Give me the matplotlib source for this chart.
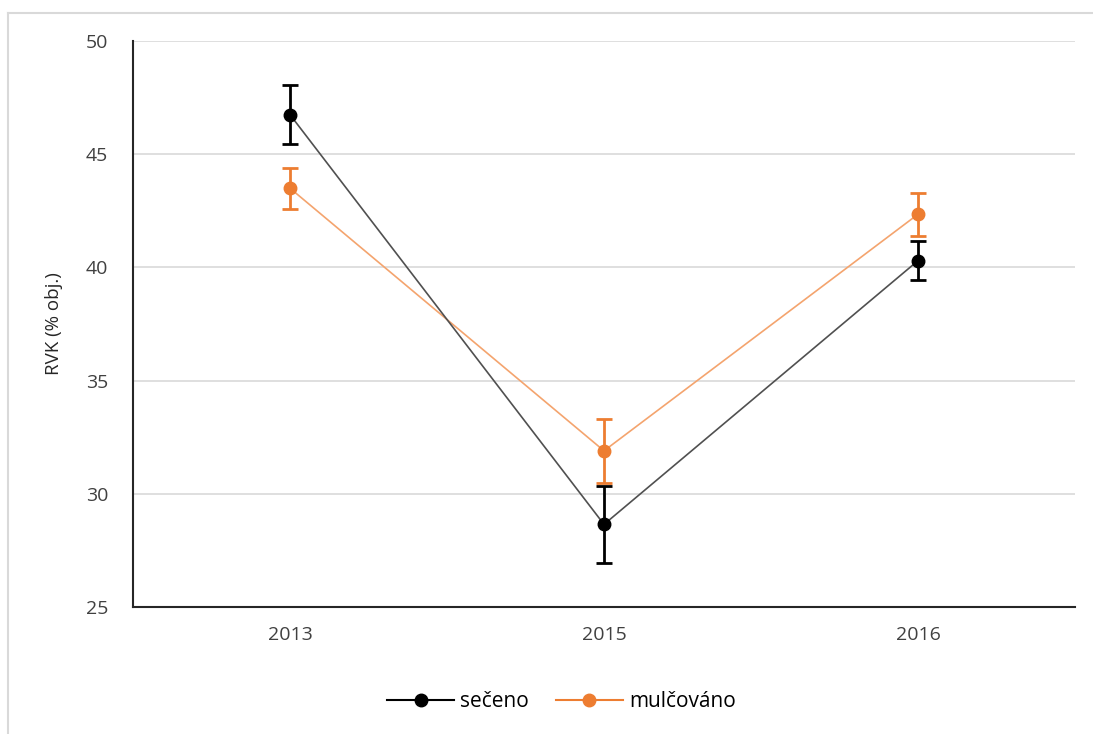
import numpy as np
import matplotlib.pyplot as plt
from matplotlib.lines import Line2D

plt.rcParams['font.family'] = ['Open Sans', 'DejaVu Sans']

years = ['2013', '2015', '2016']
seceno = [46.75, 28.65, 40.3]
seceno_err = [1.3, 1.7, 0.85]
mulcovano = [43.5, 31.9, 42.35]
mulcovano_err = [0.9, 1.4, 0.95]

orange = '#ed7d31'

fig = plt.figure(figsize=(10.93, 7.34), dpi=100)
ax = fig.add_axes([0.1217, 0.173, 0.8618, 0.771])

x = np.arange(len(years))

ax.errorbar(x, mulcovano, yerr=mulcovano_err, fmt='none', ecolor=orange,
            elinewidth=2, capsize=6, capthick=2, zorder=3)
ax.plot(x, mulcovano, color='#f4a46e', linewidth=1.2, zorder=3)
ax.plot(x, mulcovano, 'o', color=orange, markersize=9, zorder=3)

ax.errorbar(x, seceno, yerr=seceno_err, fmt='none', ecolor='black',
            elinewidth=2, capsize=6, capthick=2, zorder=4)
ax.plot(x, seceno, color='#505050', linewidth=1.2, zorder=4)
ax.plot(x, seceno, 'o', color='black', markersize=9, zorder=4)

ax.set_xlim(-0.5, 2.5)
ax.set_ylim(25, 50)
ax.set_yticks([25, 30, 35, 40, 45, 50])
ax.set_xticks(x)
ax.set_xticklabels(years)
ax.set_ylabel('RVK (% obj.)', fontsize=13.5, color='#262626', labelpad=16)

ax.grid(axis='y', color='#d9d9d9', linewidth=1.2)
ax.set_axisbelow(True)
for side in ['top', 'right']:
    ax.spines[side].set_visible(False)
for side in ['left', 'bottom']:
    ax.spines[side].set_color('#262626')
    ax.spines[side].set_linewidth(1.5)
ax.tick_params(axis='both', length=0, labelsize=14, colors='#404040')
ax.tick_params(axis='x', pad=14)
ax.tick_params(axis='y', pad=18)

h1 = Line2D([], [], color='black', marker='o', markersize=9, linewidth=1.5)
h2 = Line2D([], [], color=orange, marker='o', markersize=9, linewidth=1.5)
ax.legend([h1, h2], ['sečeno', 'mulčováno'], loc='upper center',
          bbox_to_anchor=(0.455, -0.115), ncol=2, frameon=False, fontsize=15,
          handlelength=3.2, columnspacing=1.3, handletextpad=0.3)

# light outer border (top and left edges visible)
fig.add_artist(Line2D([8 / 1093, 1], [1 - 13 / 734, 1 - 13 / 734], color='#d9d9d9', linewidth=1.5))
fig.add_artist(Line2D([8 / 1093, 8 / 1093], [0, 1 - 13 / 734], color='#d9d9d9', linewidth=1.5))

fig.savefig('out.png', dpi=100)
